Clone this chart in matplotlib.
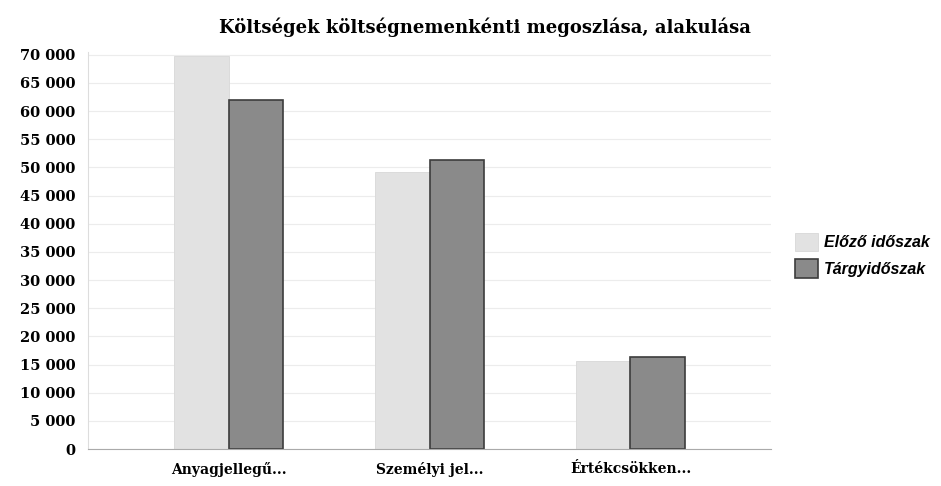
import numpy as np
import matplotlib.pyplot as plt

categories = ["Anyagjellegű...", "Személyi jel...", "Értékcsökken..."]
elozo = [69800, 49200, 15600]
targy = [62000, 51300, 16400]
series_names = ["Előző időszak", "Tárgyidőszak"]
yticks = list(range(0, 70001, 5000))

fig = plt.figure(figsize=(9.41, 4.86), dpi=100)
ax = fig.add_axes([0.0935, 0.076, 0.726, 0.817])

x = np.arange(len(categories))
w = 0.27
ax.bar(x - w / 2, elozo, w, color="#e2e2e2", edgecolor="#d8d8d8", linewidth=0.6,
       label=series_names[0], zorder=2)
ax.bar(x + w / 2, targy, w, color="#8a8a8a", edgecolor="#3c3c3c", linewidth=1.2,
       label=series_names[1], zorder=2)

ax.set_xlim(-0.7, 2.7)
ax.set_ylim(0, 70500)
ax.set_yticks(yticks)
ax.set_yticklabels([f"{v:,}".replace(",", " ") for v in yticks],
                   family="DejaVu Serif", fontweight="bold", fontsize=10.5)
ax.set_xticks(x)
ax.set_xticklabels(categories, family="DejaVu Serif", fontweight="bold", fontsize=10)
ax.tick_params(axis="y", length=0, pad=9)
ax.tick_params(axis="x", length=0, pad=9)
ax.grid(axis="y", color="#ececec", linewidth=0.8, zorder=0)

for s in ["top", "right"]:
    ax.spines[s].set_visible(False)
ax.spines["left"].set_color("#dddddd")
ax.spines["bottom"].set_color("#aaaaaa")

fig.suptitle("Költségek költségnemenkénti megoszlása, alakulása", x=0.515, y=0.965,
             family="DejaVu Serif", fontweight="bold", fontsize=13)

fig.legend(loc="center left", bbox_to_anchor=(0.83, 0.475), frameon=False,
           prop={"family": "Liberation Sans", "style": "italic", "weight": "bold", "size": 11.5},
           handlelength=1.4, handleheight=1.4, handletextpad=0.4, labelspacing=0.5)

fig.savefig("out.png", dpi=100)
